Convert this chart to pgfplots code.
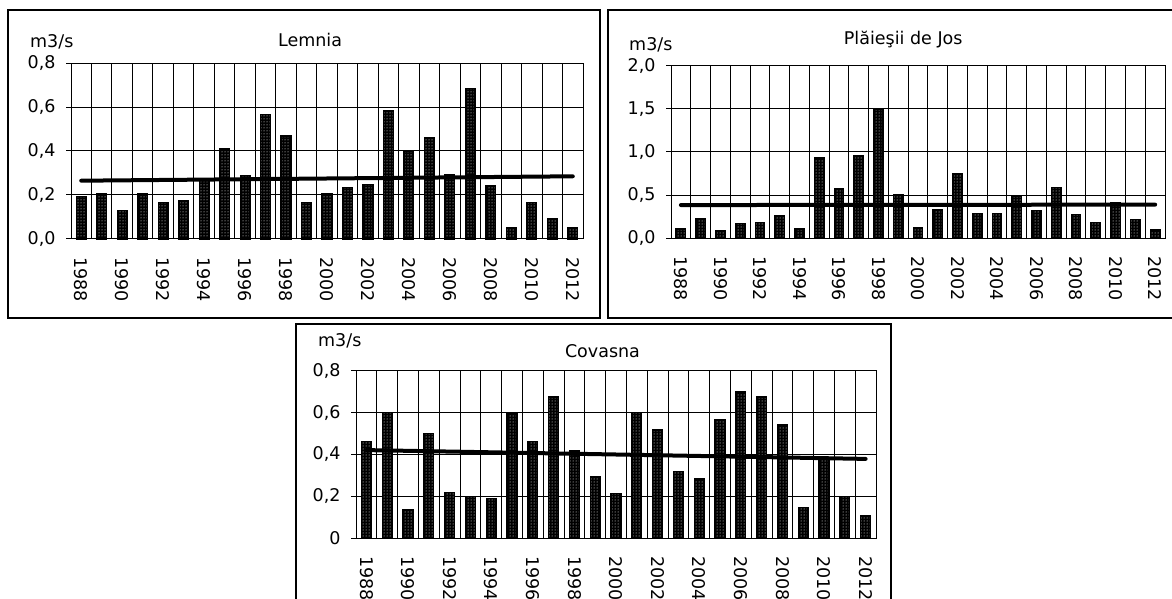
\documentclass[border=0pt]{standalone}
\usepackage{fontspec}
\setmainfont{DejaVu Sans}
\usepackage{pgfplots}
\usepackage{pgfplotstable}
\pgfplotsset{compat=1.18}
\usetikzlibrary{patterns}

\pgfplotstableread{
x y
0 0.194
1 0.205
2 0.129
3 0.205
4 0.165
5 0.176
6 0.265
7 0.410
8 0.288
9 0.567
10 0.468
11 0.165
12 0.205
13 0.235
14 0.247
15 0.585
16 0.400
17 0.462
18 0.290
19 0.685
20 0.240
21 0.053
22 0.165
23 0.094
24 0.053
}\lemnia

\pgfplotstableread{
x y
0 0.108
1 0.228
2 0.093
3 0.174
4 0.185
5 0.263
6 0.108
7 0.930
8 0.571
9 0.961
10 1.500
11 0.506
12 0.124
13 0.332
14 0.753
15 0.290
16 0.290
17 0.483
18 0.320
19 0.587
20 0.278
21 0.185
22 0.417
23 0.216
24 0.097
}\plaiesii

\pgfplotstableread{
x y
0 0.463
1 0.600
2 0.137
3 0.500
4 0.218
5 0.200
6 0.189
7 0.593
8 0.463
9 0.674
10 0.417
11 0.294
12 0.213
13 0.600
14 0.517
15 0.318
16 0.283
17 0.565
18 0.698
19 0.674
20 0.541
21 0.148
22 0.377
23 0.199
24 0.107
}\covasna

\newcommand\lbl{\fontsize{17.5}{20}\selectfont}

\pgfplotsset{
  panel/.style={
    scale only axis, clip=false,
    xmin=-0.5, xmax=24.5, ymin=0,
    xtick={0,2,...,24},
    xticklabels={1988,1990,1992,1994,1996,1998,2000,2002,2004,2006,2008,2010,2012},
    minor xtick={-0.5,0.5,...,24.5},
    xminorgrids, ymajorgrids, xmajorgrids=false,
    xtick pos=bottom, ytick pos=left,
    tick align=outside,
    xtick style={draw=none},
    minor x tick style={black, line width=1pt},
    minor tick length=5pt,
    ytick style={black, line width=1pt},
    major tick length=5pt,
    minor grid style={black, line width=1pt},
    major grid style={black, line width=1pt},
    axis line style={black, line width=1pt},
    tick label style={font=\lbl},
    xticklabel style={yshift=-12pt, rotate=-90, anchor=west, inner sep=1pt},
    yticklabel style={xshift=-7pt},
    title style={font=\lbl, anchor=base},
  },
  bars/.style={ybar, bar width=0.47, draw=black, line width=1.5pt,
    preaction={fill=black}, pattern=dots, pattern color=white},
  trend/.style={black, line width=4pt, line cap=round, sharp plot},
}

\begin{document}
\begin{tikzpicture}[x=1pt,y=1pt]
\useasboundingbox (0,0) rectangle (1172,599);
\draw[line width=1.5pt] (8,589) rectangle (600,281);
\draw[line width=1.5pt] (608,589) rectangle (1185,281);
\draw[line width=1.5pt] (296,275) rectangle (891,-20);

% Lemnia
\begin{axis}[panel, at={(71pt,360pt)}, anchor=south west,
  width=512pt, height=176pt, ymax=0.8,
  ytick={0,0.2,0.4,0.6,0.8}, yticklabels={{0,0},{0,2},{0,4},{0,6},{0,8}},
  title={Lemnia}, title style={at={(0.467,1)}, yshift=11pt}]
\addplot[bars] table[x=x,y=y]{\lemnia};
\addplot[trend] coordinates {(0,0.265) (24,0.285)};
\node[anchor=base west, inner sep=0pt, font=\lbl] at (rel axis cs:0,1) [xshift=-41pt, yshift=16pt] {m3/s};
\end{axis}

% Plaiesii de Jos
\begin{axis}[panel, at={(671pt,360.7pt)}, anchor=south west,
  width=494pt, height=172.6pt, ymax=2.0,
  ytick={0,0.5,1,1.5,2}, yticklabels={{0,0},{0,5},{1,0},{1,5},{2,0}},
  title={Plăieşii de Jos}, title style={at={(0.47,1)}, yshift=14.7pt}]
\addplot[bars] table[x=x,y=y]{\plaiesii};
\addplot[trend] coordinates {(0,0.385) (24,0.39)};
\node[anchor=base west, inner sep=0pt, font=\lbl] at (rel axis cs:0,1) [xshift=-42pt, yshift=15pt] {m3/s};
\end{axis}

% Covasna
\begin{axis}[panel, at={(356pt,60.7pt)}, anchor=south west,
  width=520pt, height=167.6pt, ymax=0.8,
  ytick={0,0.2,0.4,0.6,0.8}, yticklabels={0,{0,2},{0,4},{0,6},{0,8}},
  title={Covasna}, title style={at={(0.474,1)}, yshift=7.7pt}]
\addplot[bars] table[x=x,y=y]{\covasna};
\addplot[trend] coordinates {(0,0.421) (24,0.379)};
\node[anchor=base west, inner sep=0pt, font=\lbl] at (rel axis cs:0,1) [xshift=-38pt, yshift=24pt] {m3/s};
\end{axis}
\end{tikzpicture}
\end{document}
